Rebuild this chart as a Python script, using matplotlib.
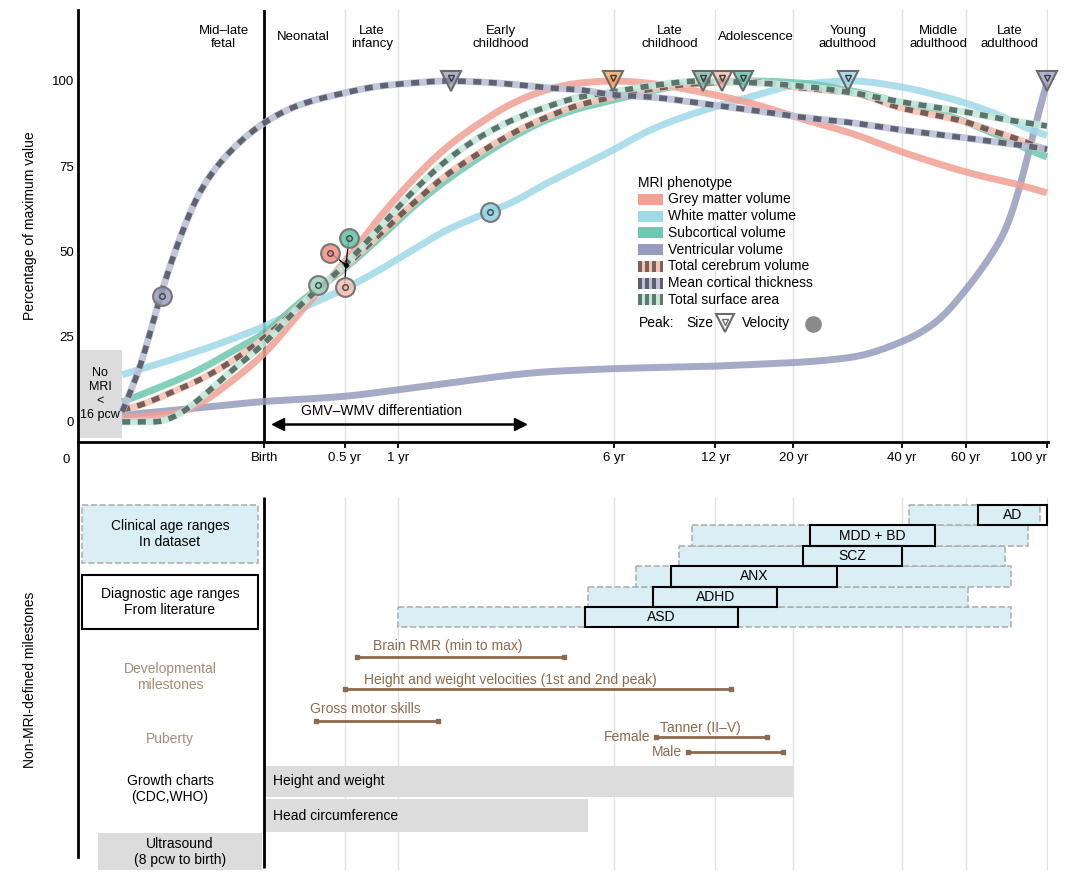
import numpy as np
import matplotlib.pyplot as plt
from matplotlib.patches import Rectangle
from matplotlib.lines import Line2D
from matplotlib.ticker import NullLocator
from matplotlib.colors import to_rgba
from matplotlib.transforms import blended_transform_factory

plt.rcParams['font.family'] = ['Liberation Sans', 'DejaVu Sans']
plt.rcParams['font.size'] = 10

# ---- MRI trajectories (age in years from birth, negative = prenatal) ----
age = [-0.45, -0.41, -0.37, -0.32, -0.25, -0.15, 0, 0.19, 0.5, 0.81, 1.17, 1.63,
       2.18, 2.85, 3.7, 4.72, 6, 7.7, 10.8, 15.1, 20.9, 29.3, 40, 49.4, 60, 69.9,
       77.8, 84.4, 91.6, 95.7, 100]
gmv = [1.2, 1.5, 2, 2.6, 5.5, 11.4, 20, 32, 47, 60, 71, 80.6, 87.7, 93.5, 97.4, 99.4,
       100, 99.3, 96.8, 93.5, 89, 84.5, 79.2, 76, 73.3, 71.5, 70.4, 69.5, 68.3, 67.8, 67.2]
wmv = [13.8, 15.5, 17, 18.8, 21, 24, 28, 33, 39, 44.6, 50.4, 56.3, 60.5, 64.5, 70, 74.8,
       79.8, 85.5, 91, 95.3, 99, 100, 98.2, 96, 93.5, 91, 89, 87, 85.5, 84.8, 84]
subcortical = [5.9, 8, 10, 12.3, 15.5, 20.2, 26, 35, 45, 54, 63, 71, 77.7, 83.6, 88.6, 92,
               94.4, 97, 99.3, 100, 99.4, 97, 93.5, 91, 88, 85, 83, 81, 79.3, 78.5, 77.7]
ventricular = [2, 2.5, 3, 3.5, 4.2, 5, 6, 6.6, 7.5, 8.7, 10, 11.3, 12.6, 13.8, 14.7, 15.2,
               15.6, 15.9, 16.2, 16.8, 17.5, 19, 23.5, 29, 38.7, 48.4, 57, 69, 84, 92.4, 99.4]
cerebrum = [3.5, 5, 7, 9.4, 12.5, 17.3, 24.6, 34, 45.5, 55, 64, 72.5, 79, 84.7, 89.4, 93,
            95.3, 97.5, 99.3, 99.8, 98, 96.5, 92, 90, 88, 85.5, 84, 82.7, 81.2, 80.5, 79.8]
thickness = [3, 17, 35, 52, 68, 79, 87.7, 93, 96.5, 98.5, 99.4, 100, 99.7, 99, 98, 97.4,
             95.9, 95.3, 93.5, 91.5, 89.4, 87.7, 85.6, 84.4, 83.3, 82.3, 81.7, 81.2, 80.6, 80.3, 80]
surface = [0, 0, 0, 2, 7, 14.4, 23, 34, 46, 57, 67.5, 76.8, 83.6, 88.6, 92.4, 95.3,
           96.8, 98.5, 100, 99.5, 98.5, 96.5, 93.8, 92.3, 90.9, 89.5, 88.6, 88, 87.4, 87, 86.8]

phenotypes = ['Grey matter volume', 'White matter volume', 'Subcortical volume',
              'Ventricular volume', 'Total cerebrum volume', 'Mean cortical thickness',
              'Total surface area']
curves = [gmv, wmv, subcortical, ventricular, cerebrum, thickness, surface]
peak_size_age = [5.98, 28.4, 14.4, 100, 12.54, 1.69, 11.05]
# velocity peaks (drawn positions)
vel_age = [0.39, 2.37, 0.535, None, 0.5, -0.36, 0.306]
vel_pct = [49.6, 61.6, 54, None, 39.6, 37, 40.2]
vel_linked = [True, False, True, False, True, False, False]

base_cols = ['#f2a093', '#9fd9e8', '#6cc8b0', '#959cbd', '#f6c4b5', '#bcc1d9', '#c2e8dc']
dash_cols = [None, None, None, None, '#5a4640', '#4a4d5a', '#465a54']
stripe_cols = [None, None, None, None, '#7a6258', '#5c5f70', '#5e7a70']
tri_cols = ['#f19a4c', '#8fd0e3', '#4db89e', '#8f96b8', '#f4b3a2', '#8f95b5', '#6fae9e']
vel_cols = ['#f0907f', '#8fd2e4', '#5fc2a8', '#959cbd', '#f6c0b0', '#9aa0bf', '#9fcfc2']

periods = ['Mid–late\nfetal', 'Neonatal', 'Late\ninfancy', 'Early\nchildhood', 'Late\nchildhood',
           'Adolescence', 'Young\nadulthood', 'Middle\nadulthood', 'Late\nadulthood']
period_age = [-0.17, 0.21, 0.735, 2.59, 8.86, 15.7, 28.4, 50.4, 79.3]

tick_age = [0, 0.5, 1, 6, 12, 20, 40, 60, 100]
tick_lbl = ['Birth', '0.5 yr', '1 yr', '6 yr', '12 yr', '20 yr', '40 yr', '60 yr', '100 yr']

# ---- non-MRI milestones ----
disorders = ['ASD', 'ADHD', 'ANX', 'SCZ', 'MDD + BD', 'AD']
clin_start = [1, 5, 7, 9.4, 10.3, 42]
clin_end = [80, 61, 80, 77, 89, 96]
dx_start = [4.9, 7.9, 8.9, 21.3, 22.3, 65]
dx_end = [13.9, 18, 26.5, 40, 49.4, 100]

milestones = ['Brain RMR (min to max)', 'Height and weight velocities (1st and 2nd peak)',
              'Gross motor skills']
ms_start = [0.6, 0.5, 0.29]
ms_end = [4.2, 13.3, 1.5]

tanner = ['Female', 'Male']
tanner_start = [8.05, 10]
tanner_end = [16.8, 18.7]

growth = ['Height and weight', 'Head circumference']
growth_end = [20, 5]


def to_days(a):
    return 280 + np.asarray(a, dtype=float) * 365.25


def pchip(x, y, xn):
    x = np.asarray(x, float)
    y = np.asarray(y, float)
    h = np.diff(x)
    d = np.diff(y) / h
    m = np.zeros_like(y)
    m[0], m[-1] = d[0], d[-1]
    for k in range(1, len(x) - 1):
        if d[k - 1] * d[k] > 0:
            w1 = 2 * h[k] + h[k - 1]
            w2 = h[k] + 2 * h[k - 1]
            m[k] = (w1 + w2) / (w1 / d[k - 1] + w2 / d[k])
    idx = np.clip(np.searchsorted(x, xn) - 1, 0, len(x) - 2)
    t = (xn - x[idx]) / h[idx]
    h00 = 2 * t ** 3 - 3 * t ** 2 + 1
    h10 = t ** 3 - 2 * t ** 2 + t
    h01 = -2 * t ** 3 + 3 * t ** 2
    h11 = t ** 3 - t ** 2
    return h00 * y[idx] + h10 * h[idx] * m[idx] + h01 * y[idx + 1] + h11 * h[idx] * m[idx + 1]


def smooth_curve(ages, vals, n=900, sigma=0.016):
    lx = np.log10(to_days(ages))
    gx = np.linspace(lx[0], lx[-1], n)
    gy = pchip(lx, vals, gx)
    step = gx[1] - gx[0]
    k = int(3 * sigma / step)
    kern = np.exp(-0.5 * (np.arange(-k, k + 1) * step / sigma) ** 2)
    kern /= kern.sum()
    pad = np.concatenate([2 * gy[0] - gy[k:0:-1], gy, 2 * gy[-1] - gy[-2:-k - 2:-1]])
    return 10 ** gx, np.convolve(pad, kern, mode='valid')


W, H = 1080, 881
X_LEFT, X_RIGHT = 87.8, 37060  # post-conception days at axis edges


def rect(l, t, r, b):
    return [l / W, 1 - b / H, (r - l) / W, (b - t) / H]


def fxy(px, py):
    return px / W, 1 - py / H


fig = plt.figure(figsize=(10.8, 8.81), dpi=100)
ax = fig.add_axes(rect(78, 10, 1048, 442))
ax2 = fig.add_axes(rect(78, 442, 1048, 875))
ax2.patch.set_visible(False)

# ================= top panel =================
ax.set_xscale('log')
ax.set_xlim(X_LEFT, X_RIGHT)
ax.set_ylim(-5.9, 120.8)
ax.xaxis.set_minor_locator(NullLocator())
for s in ['top', 'right']:
    ax.spines[s].set_visible(False)
for s in ['left', 'bottom']:
    ax.spines[s].set_linewidth(2)

ax.set_xticks(to_days(tick_age))
ax.set_xticklabels(tick_lbl)
ax.get_xticklabels()[-1].set_ha('right')
ax.tick_params(axis='x', length=4, width=1.3, pad=3, labelsize=9.5)
ax.set_yticks([0, 25, 50, 75, 100])
ax.tick_params(axis='y', length=0, pad=3, labelsize=9.5)
fig.text(*fxy(66, 460), '0', ha='center', va='center', fontsize=9.5)

for t in to_days(tick_age[1:]):
    ax.axvline(t, color='#e2e2e2', lw=1, zorder=0)
ax.axvline(to_days(0), color='k', lw=2, zorder=1)

for lbl, a in zip(periods, period_age):
    ax.text(to_days(a), 112.8, lbl, ha='center', va='center', fontsize=9.5, linespacing=1.15)

# no MRI box
ax.add_patch(Rectangle((X_LEFT, -4.7), to_days(age[0]) - X_LEFT, 25.8, fc='#dcdcdc',
                       ec='none', zorder=1, clip_on=False))
ax.text(np.sqrt(X_LEFT * to_days(age[0])), 8.2, 'No\nMRI\n<\n16 pcw', ha='center',
        va='center', fontsize=9, linespacing=1.25, zorder=2)

# curves: solid first, dashed on top
order = [3, 1, 2, 0, 4, 6, 5]
for i in order:
    x, y = smooth_curve(age, curves[i])
    if dash_cols[i] is None:
        ax.plot(x, y, color=base_cols[i], lw=5, alpha=0.85, solid_capstyle='butt', zorder=3)
    else:
        ax.plot(x, y, color=base_cols[i], lw=5, alpha=0.9, solid_capstyle='butt', zorder=4)
        ax.plot(x, y, color=dash_cols[i], lw=4, dashes=(1.45, 1.35), alpha=0.82, zorder=4)

# velocity peaks
join = (to_days(0.51), 46)
for i in range(len(curves)):
    if vel_age[i] is None:
        continue
    vx = to_days(vel_age[i])
    if vel_linked[i]:
        ax.plot([vx, join[0]], [vel_pct[i], join[1]], color='k', lw=0.9, zorder=6)
    ax.plot(vx, vel_pct[i], marker='o', ms=13.5, mfc=to_rgba(vel_cols[i], 0.85),
            mec='#777777', mew=1.5, zorder=7)
    ax.plot(vx, vel_pct[i], marker='o', ms=4, mfc='none', mec='#444444', mew=1, zorder=8)
ax.plot(*join, marker='o', ms=2.5, color='k', zorder=6)

# size peaks
for i in range(len(curves)):
    px = to_days(peak_size_age[i])
    ax.plot(px, 100, marker='v', ms=14.5, mfc=to_rgba(tri_cols[i], 0.7), mec='#6a6a6a',
            mew=1.5, zorder=9, clip_on=False)
    ax.plot(px, 101, marker='v', ms=5, mfc='none', mec='#3a3a3a', mew=1, zorder=10,
            clip_on=False)

# GMV-WMV differentiation
ax.plot(to_days([0.07, 3.0]), [-0.6, -0.6], color='k', lw=1.8, zorder=5)
ax.plot(to_days(0.07), -0.6, marker='<', ms=9, color='k', zorder=5)
ax.plot(to_days(3.0), -0.6, marker='>', ms=9, color='k', zorder=5)
ax.text(to_days(0.2), 3.2, 'GMV–WMV differentiation', ha='left', va='center', fontsize=10)

fig.text(*fxy(30, 226), 'Percentage of maximum value', rotation=90, ha='center',
         va='center', fontsize=10)

# legend
fig.text(*fxy(638, 183), 'MRI phenotype', ha='left', va='center', fontsize=10)
for i, name in enumerate(phenotypes):
    y = 199.5 + i * 16.7
    fig.add_artist(Rectangle(fxy(638, y + 5.5), 25 / W, 11 / H, transform=fig.transFigure,
                             fc=base_cols[i], ec='none'))
    if stripe_cols[i] is not None:
        for k in range(4):
            fig.add_artist(Rectangle(fxy(638 + k * 7.2, y + 5.5), 3.6 / W, 11 / H,
                                     transform=fig.transFigure, fc=stripe_cols[i], ec='none'))
    fig.text(*fxy(668, y), name, ha='left', va='center', fontsize=10)
fig.text(*fxy(639, 323), 'Peak:', ha='left', va='center', fontsize=10)
fig.text(*fxy(686, 323), 'Size', ha='left', va='center', fontsize=10)
fig.add_artist(Line2D([fxy(725, 323)[0]], [fxy(725, 323)[1]], transform=fig.transFigure,
                      marker='v', ms=13, mfc='white', mec='#6a6a6a', mew=1.5))
fig.add_artist(Line2D([fxy(725, 322)[0]], [fxy(725, 322)[1]], transform=fig.transFigure,
                      marker='v', ms=5, mfc='none', mec='#6a6a6a', mew=1))
fig.text(*fxy(742, 323), 'Velocity', ha='left', va='center', fontsize=10)
fig.add_artist(Line2D([fxy(813, 324)[0]], [fxy(813, 324)[1]], transform=fig.transFigure,
                      marker='o', ms=11, mfc='#8a8a8a', mec='#8a8a8a'))

# ================= bottom panel =================
ax2.set_xscale('log')
ax2.set_xlim(X_LEFT, X_RIGHT)
ax2.set_ylim(875, 442)
ax2.xaxis.set_minor_locator(NullLocator())
ax2.set_xticks([])
ax2.set_yticks([])
for s in ['top', 'right', 'bottom']:
    ax2.spines[s].set_visible(False)
ax2.spines['left'].set_linewidth(2)
ax2.spines['left'].set_bounds(857, 442)

ax2.vlines(to_days(tick_age[1:]), 497, 870, color='#e2e2e2', lw=1, zorder=0)
ax2.vlines(to_days(0), 497, 868, color='k', lw=2, zorder=5)

bt = blended_transform_factory(ax2.transAxes, ax2.transData)
ax2.add_patch(Rectangle((0.0041, 505), 0.1815, 58, transform=bt, fc='#daeef5', ec='#b0b0b0',
                        ls='--', lw=1.2))
ax2.text(0.0948, 534, 'Clinical age ranges\nIn dataset', transform=bt, ha='center',
         va='center', fontsize=10, linespacing=1.2)
ax2.add_patch(Rectangle((0.0041, 575), 0.1815, 54, transform=bt, fc='white', ec='k', lw=1.5))
ax2.text(0.0948, 602, 'Diagnostic age ranges\nFrom literature', transform=bt, ha='center',
         va='center', fontsize=10, linespacing=1.2)
ax2.text(0.0948, 677, 'Developmental\nmilestones', transform=bt, ha='center', va='center',
         fontsize=10, color='#a58b73', linespacing=1.2)
ax2.text(0.0948, 739, 'Puberty', transform=bt, ha='center', va='center', fontsize=10,
         color='#a58b73')
ax2.text(0.0948, 789, 'Growth charts\n(CDC,WHO)', transform=bt, ha='center', va='center',
         fontsize=10, linespacing=1.2)
ax2.add_patch(Rectangle((0.0206, 833), 0.1691, 37, transform=bt, fc='#dcdcdc', ec='none',
                        clip_on=False))
ax2.text(0.1052, 852, 'Ultrasound\n(8 pcw to birth)', transform=bt, ha='center', va='center',
         fontsize=10, linespacing=1.15)
fig.text(*fxy(30, 680), 'Non-MRI-defined milestones', rotation=90, ha='center', va='center',
         fontsize=10)

row_h = 20.4
for i in range(len(disorders)):
    top = 607 - i * row_h
    x0, x1 = to_days(clin_start[i]), to_days(clin_end[i])
    ax2.add_patch(Rectangle((x0, top), x1 - x0, row_h, fc='#daeef5', ec='#b0b0b0', ls='--',
                            lw=1.2, zorder=2))
for i, name in enumerate(disorders):
    top = 607 - i * row_h
    x0, x1 = to_days(dx_start[i]), to_days(dx_end[i])
    ax2.add_patch(Rectangle((x0, top), x1 - x0, row_h, fc='none', ec='k', lw=1.5, zorder=3,
                            clip_on=False))
    ax2.text(np.sqrt(x0 * x1), top + row_h / 2, name, ha='center', va='center', fontsize=10,
             zorder=4)

brown = '#8c6a4f'
ms_y = [657, 689, 721]
ms_lbl_off = [(11.5, 8), (14, 6.5), (-4, 8.6)]
for i, name in enumerate(milestones):
    xs = to_days([ms_start[i], ms_end[i]])
    ax2.plot(xs, [ms_y[i]] * 2, color=brown, lw=2, marker='s', ms=3.5, zorder=3)
    ax2.annotate(name, (xs[0], ms_y[i]), xytext=ms_lbl_off[i], textcoords='offset points',
                 ha='left', va='center', fontsize=10, color=brown)

tn_y = [737, 752]
for i, name in enumerate(tanner):
    xs = to_days([tanner_start[i], tanner_end[i]])
    ax2.plot(xs, [tn_y[i]] * 2, color=brown, lw=2, marker='s', ms=3.5, zorder=3)
    ax2.annotate(name, (xs[0], tn_y[i]), xytext=(-4, 0), textcoords='offset points',
                 ha='right', va='center', fontsize=10, color=brown)
ax2.annotate('Tanner (II–V)', (to_days(tanner_start[0]), tn_y[0]), xytext=(3, 6.5),
             textcoords='offset points', ha='left', va='center', fontsize=10, color=brown)

gr_top = [766, 799]
gr_h = [31, 33]
for i, name in enumerate(growth):
    x0, x1 = to_days(0), to_days(growth_end[i])
    ax2.add_patch(Rectangle((x0, gr_top[i]), x1 - x0, gr_h[i], fc='#dcdcdc', ec='none',
                            zorder=1))
    ax2.annotate(name, (x0, gr_top[i] + gr_h[i] / 2), xytext=(6.5, 0),
                 textcoords='offset points', ha='left', va='center', fontsize=10, zorder=4)

fig.savefig('out.png', dpi=100)
